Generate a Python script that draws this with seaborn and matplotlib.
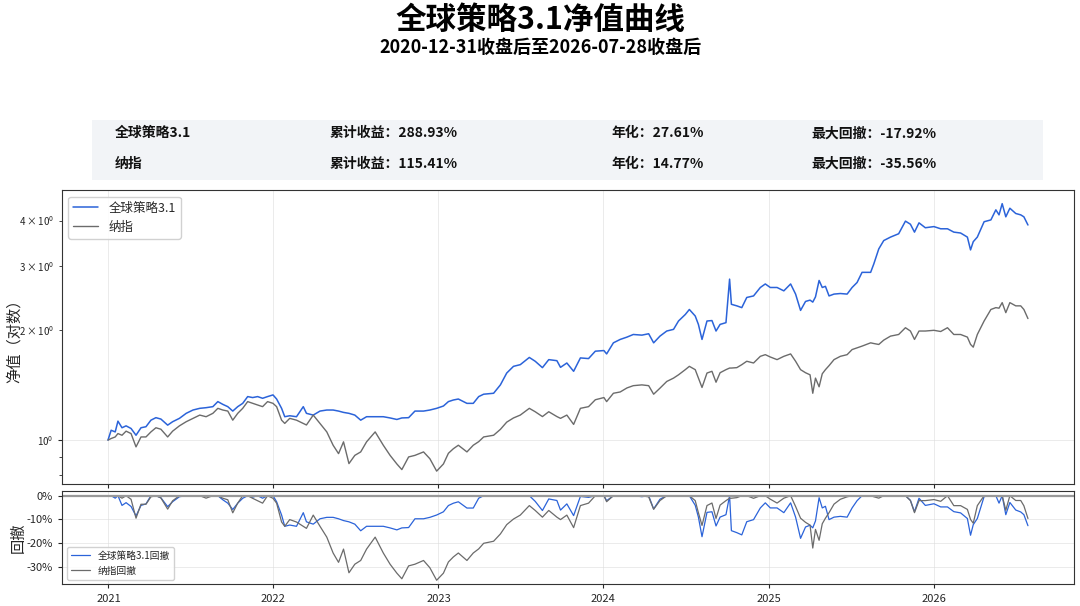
import matplotlib
matplotlib.use("Agg")
import matplotlib.pyplot as plt
import matplotlib.ticker as mticker
from matplotlib.patches import Rectangle
import seaborn as sns
import pandas as pd

# values
dates = [
    "2020-12-31", "2021-01-07", "2021-01-16", "2021-01-22", "2021-01-31", "2021-02-09", "2021-02-20",
    "2021-03-03", "2021-03-14", "2021-03-25", "2021-04-05", "2021-04-16", "2021-04-27", "2021-05-12",
    "2021-05-23", "2021-06-07", "2021-06-22", "2021-07-07", "2021-07-22", "2021-08-05", "2021-08-20",
    "2021-08-31", "2021-09-11", "2021-09-22", "2021-10-03", "2021-10-14", "2021-10-25", "2021-11-05",
    "2021-11-16", "2021-11-27", "2021-12-08", "2021-12-19", "2021-12-31", "2022-01-08", "2022-01-19",
    "2022-01-26", "2022-02-06", "2022-02-21", "2022-03-08", "2022-03-15", "2022-03-30", "2022-04-14",
    "2022-04-29", "2022-05-13", "2022-05-25", "2022-06-05", "2022-06-17", "2022-06-30", "2022-07-13",
    "2022-07-26", "2022-08-14", "2022-09-01", "2022-09-16", "2022-10-01", "2022-10-12", "2022-10-27",
    "2022-11-10", "2022-11-29", "2022-12-13", "2022-12-28", "2023-01-12", "2023-01-23", "2023-02-03",
    "2023-02-14", "2023-03-05", "2023-03-19", "2023-03-31", "2023-04-11", "2023-05-03", "2023-05-18",
    "2023-06-01", "2023-06-16", "2023-07-01", "2023-07-21", "2023-08-03", "2023-08-19", "2023-09-02",
    "2023-09-20", "2023-09-28", "2023-10-12", "2023-10-27", "2023-11-11", "2023-11-29", "2023-12-14",
    "2024-01-02", "2024-01-08", "2024-01-23", "2024-02-07", "2024-02-22", "2024-03-07", "2024-03-26",
    "2024-04-10", "2024-04-21", "2024-05-05", "2024-05-20", "2024-06-04", "2024-06-15", "2024-06-30",
    "2024-07-09", "2024-07-22", "2024-07-29", "2024-08-06", "2024-08-17", "2024-08-28", "2024-09-06",
    "2024-09-15", "2024-09-28", "2024-10-06", "2024-10-10", "2024-10-22", "2024-11-02", "2024-11-13",
    "2024-11-28", "2024-12-13", "2024-12-24", "2025-01-04", "2025-01-19", "2025-02-03", "2025-02-18",
    "2025-03-01", "2025-03-12", "2025-03-23", "2025-04-02", "2025-04-08", "2025-04-14", "2025-04-22",
    "2025-04-29", "2025-05-06", "2025-05-14", "2025-05-25", "2025-06-08", "2025-06-23", "2025-07-04",
    "2025-07-15", "2025-07-26", "2025-08-14", "2025-08-21", "2025-09-01", "2025-09-12", "2025-09-27",
    "2025-10-15", "2025-10-30", "2025-11-10", "2025-11-19", "2025-11-29", "2025-12-13", "2026-01-01",
    "2026-01-16", "2026-01-31", "2026-02-14", "2026-03-01", "2026-03-16", "2026-03-23", "2026-03-29",
    "2026-04-07", "2026-04-22", "2026-05-07", "2026-05-18", "2026-05-25", "2026-06-01", "2026-06-09",
    "2026-06-18", "2026-07-01", "2026-07-12", "2026-07-19", "2026-07-28",
]

strategy_nav = [
    1.000, 1.064, 1.053, 1.127, 1.081, 1.094, 1.076,
    1.031, 1.081, 1.088, 1.134, 1.152, 1.142, 1.099,
    1.123, 1.147, 1.184, 1.209, 1.222, 1.227, 1.235,
    1.275, 1.253, 1.235, 1.201, 1.235, 1.261, 1.316,
    1.308, 1.316, 1.302, 1.316, 1.330, 1.296, 1.222,
    1.159, 1.166, 1.159, 1.235, 1.184, 1.171, 1.201,
    1.209, 1.209, 1.201, 1.191, 1.184, 1.171, 1.134,
    1.159, 1.159, 1.159, 1.150, 1.139, 1.150, 1.152,
    1.201, 1.201, 1.209, 1.222, 1.240, 1.275, 1.288,
    1.296, 1.261, 1.261, 1.316, 1.336, 1.344, 1.417,
    1.527, 1.593, 1.610, 1.685, 1.645, 1.580, 1.662,
    1.651, 1.583, 1.627, 1.544, 1.680, 1.673, 1.753,
    1.760, 1.723, 1.848, 1.888, 1.916, 1.948, 1.940,
    1.957, 1.848, 1.928, 1.991, 2.012, 2.121, 2.210,
    2.281, 2.189, 2.076, 1.888, 2.121, 2.127, 1.991,
    2.076, 2.099, 2.763, 2.357, 2.334, 2.308, 2.461,
    2.485, 2.621, 2.680, 2.621, 2.621, 2.566, 2.680,
    2.514, 2.268, 2.400, 2.420, 2.390, 2.470, 2.740,
    2.621, 2.640, 2.485, 2.514, 2.523, 2.514, 2.621,
    2.705, 2.884, 2.884, 3.041, 3.344, 3.525, 3.603,
    3.680, 3.985, 3.908, 3.718, 3.942, 3.822, 3.850,
    3.797, 3.797, 3.718, 3.697, 3.603, 3.323, 3.500,
    3.603, 3.970, 4.016, 4.280, 4.146, 4.450, 4.095,
    4.323, 4.182, 4.146, 4.095, 3.889,
]

nasdaq_nav = [
    1.000, 1.010, 1.020, 1.042, 1.031, 1.058, 1.042,
    0.958, 1.020, 1.020, 1.053, 1.081, 1.071, 1.020,
    1.058, 1.094, 1.123, 1.147, 1.171, 1.159, 1.184,
    1.222, 1.209, 1.201, 1.134, 1.184, 1.222, 1.275,
    1.261, 1.248, 1.235, 1.275, 1.261, 1.235, 1.134,
    1.111, 1.147, 1.134, 1.111, 1.100, 1.171, 1.111,
    1.053, 0.968, 0.918, 0.989, 0.862, 0.908, 0.928,
    0.989, 1.053, 0.968, 0.908, 0.860, 0.830, 0.899,
    0.908, 0.928, 0.889, 0.822, 0.860, 0.920, 0.947,
    0.968, 0.928, 0.968, 0.990, 1.020, 1.031, 1.070,
    1.120, 1.150, 1.171, 1.222, 1.196, 1.160, 1.196,
    1.160, 1.147, 1.171, 1.104, 1.222, 1.235, 1.290,
    1.308, 1.275, 1.344, 1.355, 1.390, 1.410, 1.417,
    1.410, 1.336, 1.388, 1.448, 1.479, 1.510, 1.560,
    1.593, 1.560, 1.479, 1.394, 1.527, 1.544, 1.441,
    1.530, 1.560, 1.576, 1.576, 1.580, 1.610, 1.645,
    1.627, 1.697, 1.715, 1.690, 1.662, 1.697, 1.723,
    1.645, 1.560, 1.530, 1.510, 1.344, 1.479, 1.400,
    1.520, 1.560, 1.600, 1.662, 1.697, 1.715, 1.771,
    1.790, 1.810, 1.848, 1.840, 1.829, 1.880, 1.928,
    1.948, 2.033, 1.991, 1.888, 1.991, 1.991, 2.000,
    1.985, 2.033, 1.948, 1.948, 1.916, 1.830, 1.798,
    1.948, 2.121, 2.281, 2.308, 2.300, 2.382, 2.236,
    2.382, 2.334, 2.334, 2.281, 2.154,
]

names = ["全球策略3.1", "纳指"]
total_returns = ["288.93%", "115.41%"]
annual_returns = ["27.61%", "14.77%"]
max_drawdowns = ["-17.92%", "-35.56%"]

df = pd.DataFrame({"date": pd.to_datetime(dates), "strategy": strategy_nav, "nasdaq": nasdaq_nav})
df["strategy_dd"] = df["strategy"] / df["strategy"].cummax() - 1
df["nasdaq_dd"] = df["nasdaq"] / df["nasdaq"].cummax() - 1

sns.set_style("ticks")
plt.rcParams["font.family"] = ["Noto Sans CJK SC", "DejaVu Sans"]
plt.rcParams["axes.unicode_minus"] = False

blue = "#2b63d9"
gray = "#6b6b6b"

fig = plt.figure(figsize=(10.8, 6.06), dpi=100)
ax = fig.add_axes([0.0574, 0.2005, 0.937, 0.4855])
ax_dd = fig.add_axes([0.0574, 0.0355, 0.937, 0.1535], sharex=ax)

# title block
fig.text(0.5, 0.967, "全球策略3.1净值曲线", ha="center", va="center", fontsize=22,
         fontweight="bold", color="black")
fig.text(0.5, 0.922, "2020-12-31收盘后至2026-07-28收盘后", ha="center", va="center",
         fontsize=13, fontweight="bold", color="black")

# stats box
fig.add_artist(Rectangle((0.0852, 0.703), 0.881, 0.099, transform=fig.transFigure,
                         facecolor="#f2f4f7", edgecolor="none"))
row_y = [0.780, 0.730]
for i in range(2):
    kw = dict(fontsize=10, fontweight="bold", va="center", color="#111111")
    fig.text(0.106, row_y[i], names[i], **kw)
    fig.text(0.305, row_y[i], "累计收益：" + total_returns[i], **kw)
    fig.text(0.566, row_y[i], "年化：" + annual_returns[i], **kw)
    fig.text(0.751, row_y[i], "最大回撤：" + max_drawdowns[i], **kw)

# net value (log)
sns.lineplot(data=df, x="date", y="strategy", ax=ax, color=blue, linewidth=1.1, label=names[0])
sns.lineplot(data=df, x="date", y="nasdaq", ax=ax, color=gray, linewidth=1.0, label=names[1])
ax.set_yscale("log")
ax.set_ylabel("净值（对数）", fontsize=11)
ax.yaxis.set_label_coords(-0.039, 0.5)
ax.set_xlabel("")
ax.grid(True, color="#dddddd", alpha=0.6, linewidth=0.7)
ax.legend(loc="upper left", fontsize=9, frameon=True, fancybox=True, framealpha=0.9)
ax.tick_params(axis="both", which="both", labelsize=7)
ax.tick_params(axis="both", which="major", length=3)
ax.tick_params(axis="both", which="minor", length=2)
plt.setp(ax.get_xticklabels(), visible=False)
for s in ax.spines.values():
    s.set_color("#333333")

# drawdown
sns.lineplot(data=df, x="date", y="strategy_dd", ax=ax_dd, color=blue, linewidth=0.9, label=names[0] + "回撤")
sns.lineplot(data=df, x="date", y="nasdaq_dd", ax=ax_dd, color=gray, linewidth=0.9, label=names[1] + "回撤")
ax_dd.axhline(0, color="#999999", linewidth=1.6)
ax_dd.set_ylabel("回撤", fontsize=11)
ax_dd.yaxis.set_label_coords(-0.035, 0.5)
ax_dd.set_xlabel("")
ax_dd.yaxis.set_major_locator(mticker.MultipleLocator(0.1))
ax_dd.yaxis.set_major_formatter(mticker.FuncFormatter(lambda v, p: f"{v * 100:.0f}%"))
ax_dd.grid(True, color="#dddddd", alpha=0.6, linewidth=0.7)
ax_dd.legend(loc="lower left", fontsize=7, frameon=True, framealpha=0.9)
ax_dd.tick_params(axis="both", labelsize=8, length=3)
ax_dd.xaxis.set_major_locator(matplotlib.dates.YearLocator())
ax_dd.xaxis.set_major_formatter(matplotlib.dates.DateFormatter("%Y"))
for s in ax_dd.spines.values():
    s.set_color("#333333")

fig.savefig("out.png", dpi=100)
